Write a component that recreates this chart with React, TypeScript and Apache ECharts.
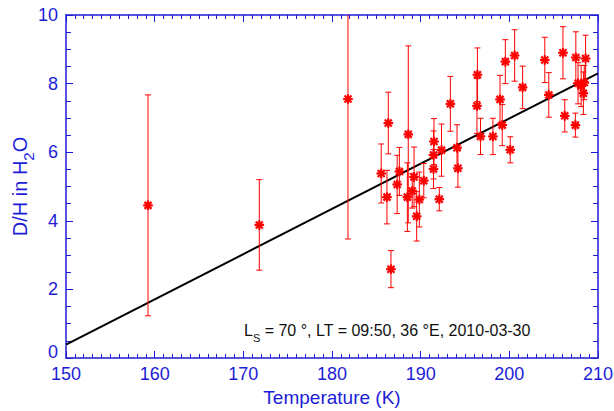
import React, { useEffect, useRef } from "react";
import * as echarts from "echarts";

const temperature = [
  159.25, 171.8, 181.8, 185.55, 186.2, 186.35, 186.65, 187.35, 187.6, 188.5,
  188.6, 189.05, 189.25, 189.55, 189.85, 190.35, 191.45, 191.45, 191.5, 192.1,
  192.35, 193.35, 194.1, 194.2, 196.35, 196.4, 196.75, 198.15, 198.95, 199.2,
  199.55, 200.1, 200.6, 201.5, 204.0, 204.45, 206.05, 206.25, 207.45, 207.5,
  207.75, 208.1, 208.35, 208.45, 208.6,
];
const dhRatio = [
  4.45, 3.88, 7.55, 5.38, 4.69, 6.85, 2.59, 5.06, 5.44, 4.69,
  6.52, 4.87, 5.28, 4.13, 4.62, 5.17, 5.51, 5.92, 6.31, 4.63,
  6.06, 7.41, 6.13, 5.53, 7.35, 8.26, 6.46, 6.46, 7.54, 6.79,
  8.64, 6.07, 8.82, 7.89, 8.69, 7.67, 8.9, 7.06, 6.79, 8.76,
  8.01, 7.93, 7.72, 8.03, 8.73,
];
const dhError = [
  3.22, 1.32, 4.08, 0.86, 0.78, 0.9, 0.54, 0.85, 0.7, 1.0,
  2.58, 0.5, 0.87, 0.72, 0.8, 0.5, 0.57, 0.7, 0.67, 0.34,
  0.76, 0.8, 0.67, 0.55, 0.8, 0.78, 0.53, 0.53, 0.7, 0.6,
  0.64, 0.38, 0.75, 0.62, 0.66, 0.65, 0.76, 0.47, 0.35, 0.75,
  0.6, 0.6, 0.62, 0.5, 0.68,
];
const fitLine = [
  [150, 0.39],
  [210, 8.3],
];

const BLUE = "#1c1cd8";
const FONT = "'Liberation Sans', Arial, Helvetica, sans-serif";

export default function App() {
  const ref = useRef<HTMLDivElement>(null);
  useEffect(() => {
    if (!ref.current) return;
    const chart = echarts.init(ref.current, null, { renderer: "svg" });
    const pts = temperature.map((t, i) => [t, dhRatio[i], dhError[i]]);
    const axisCommon = (show: boolean) => ({
      axisLine: { show: true, onZero: false, lineStyle: { color: BLUE, width: 1.5 } },
      axisTick: { show: true, inside: true, length: 7, lineStyle: { color: BLUE, width: 1 } },
      splitLine: { show: false },
      axisLabel: { show, color: BLUE, fontSize: 18, fontFamily: FONT, margin: 7 },
    });
    chart.setOption({
      animation: false,
      backgroundColor: "#fff",
      grid: { left: 66, right: 16, top: 15, bottom: 53, containLabel: false, outerBoundsMode: "none" },
      xAxis: [
        {
          type: "value", min: 150, max: 210, interval: 10, position: "bottom",
          ...axisCommon(true),
          minorTick: { show: true, splitNumber: 10, length: 4, lineStyle: { color: BLUE } },
          name: "Temperature (K)", nameLocation: "middle", nameGap: 30, nameMoveOverlap: false,
          nameTextStyle: { color: BLUE, fontSize: 19, fontFamily: FONT },
        },
        {
          type: "value", min: 150, max: 210, interval: 10, position: "top",
          ...axisCommon(false),
          minorTick: { show: true, splitNumber: 10, length: 4, lineStyle: { color: BLUE } },
        },
      ],
      yAxis: [
        {
          type: "value", min: 0, max: 10, interval: 2, position: "left",
          ...axisCommon(true),
          axisLabel: {
            show: true, color: BLUE, fontSize: 18, fontFamily: FONT, margin: 8,
            formatter: (v: number) => (v === 0 ? "{z|0}" : String(v)),
            rich: { z: { color: BLUE, fontSize: 18, fontFamily: FONT, padding: [0, 0, 12, 0] } },
          },
          minorTick: { show: true, splitNumber: 4, length: 5, lineStyle: { color: BLUE } },
          name: "{n|D/H in H}{s|2}{n|O}", nameLocation: "middle", nameGap: 30, nameMoveOverlap: false,
          nameTextStyle: {
            color: BLUE, fontSize: 20, fontFamily: FONT,
            rich: {
              n: { color: BLUE, fontSize: 20, fontFamily: FONT, lineHeight: 32, verticalAlign: "middle" },
              s: { color: BLUE, fontSize: 15, fontFamily: FONT, lineHeight: 15, verticalAlign: "bottom" },
            },
          },
        },
        {
          type: "value", min: 0, max: 10, interval: 2, position: "right",
          ...axisCommon(false),
          minorTick: { show: true, splitNumber: 4, length: 5, lineStyle: { color: BLUE } },
        },
      ],
      series: [
        {
          type: "line",
          data: fitLine,
          symbol: "none",
          lineStyle: { color: "#000", width: 2 },
          z: 3,
        },
        {
          type: "custom",
          data: pts,
          z: 4,
          renderItem: (params: any, api: any) => {
            const x = api.value(0), y = api.value(1), e = api.value(2);
            const c = api.coord([x, y]);
            const t = api.coord([x, y + e]);
            const b = api.coord([x, y - e]);
            const cs = params.coordSys;
            const topLimit = cs.y;
            const botLimit = cs.y + cs.height;
            const ty = Math.max(t[1], topLimit);
            const by = Math.min(b[1], botLimit);
            const red = "#ff0000";
            const children: any[] = [
              { type: "line", shape: { x1: c[0], y1: ty, x2: c[0], y2: by }, style: { stroke: red, lineWidth: 1 } },
            ];
            if (t[1] >= topLimit)
              children.push({ type: "line", shape: { x1: c[0] - 3, y1: t[1], x2: c[0] + 3, y2: t[1] }, style: { stroke: red, lineWidth: 1 } });
            if (b[1] <= botLimit)
              children.push({ type: "line", shape: { x1: c[0] - 3, y1: b[1], x2: c[0] + 3, y2: b[1] }, style: { stroke: red, lineWidth: 1 } });
            const r = 4.8;
            const d = 3.5;
            const sw = 2.2;
            children.push(
              { type: "line", shape: { x1: c[0] - r, y1: c[1], x2: c[0] + r, y2: c[1] }, style: { stroke: red, lineWidth: sw } },
              { type: "line", shape: { x1: c[0], y1: c[1] - r, x2: c[0], y2: c[1] + r }, style: { stroke: red, lineWidth: sw } },
              { type: "line", shape: { x1: c[0] - d, y1: c[1] - d, x2: c[0] + d, y2: c[1] + d }, style: { stroke: red, lineWidth: sw } },
              { type: "line", shape: { x1: c[0] - d, y1: c[1] + d, x2: c[0] + d, y2: c[1] - d }, style: { stroke: red, lineWidth: sw } }
            );
            return { type: "group", children };
          },
        },
      ],
      graphic: [
        {
          type: "text",
          left: 244,
          top: 322,
          style: {
            text: "{n|L}{s|S}{n| = 70 °, LT = 09:50, 36 °E, 2010-03-30}",
            fill: "#111",
            rich: {
              n: { fontSize: 16, fontFamily: FONT, fill: "#111", lineHeight: 26, verticalAlign: "middle" },
              s: { fontSize: 11, fontFamily: FONT, fill: "#111", lineHeight: 11, verticalAlign: "bottom" },
            },
          },
        },
      ],
    });
    return () => chart.dispose();
  }, []);
  return (
    <div
      ref={ref}
      style={{ position: "fixed", left: 0, top: 0, width: 614, height: 411 }}
    />
  );
}
